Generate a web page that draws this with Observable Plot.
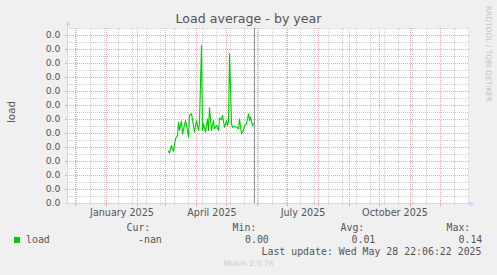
<!DOCTYPE html>
<html><head><meta charset="utf-8">
<script src="https://cdn.jsdelivr.net/npm/d3@7"></script>
<script src="https://cdn.jsdelivr.net/npm/@observablehq/plot@0.6"></script>
<style>
html,body{margin:0;padding:0;background:#f0f0f0;}
#wrap{position:relative;width:497px;height:275px;overflow:hidden;font-family:"DejaVu Sans";color:#555;}
#wrap svg{position:absolute;left:0;top:0;}
.t{position:absolute;white-space:pre;line-height:1;}
.m{font-family:"DejaVu Sans Mono";font-size:9.9px;color:#555;}
</style></head><body><div id="wrap"></div>
<script>
// ---- data ----
const dates = ["2025-03-04","2025-03-05","2025-03-07","2025-03-08","2025-03-09","2025-03-11","2025-03-13","2025-03-14","2025-03-15","2025-03-17","2025-03-18","2025-03-21","2025-03-23","2025-03-24","2025-03-25","2025-03-27","2025-03-29","2025-03-30","2025-04-01","2025-04-03","2025-04-04","2025-04-06","2025-04-07","2025-04-08","2025-04-10","2025-04-12","2025-04-13","2025-04-14","2025-04-16","2025-04-18","2025-04-19","2025-04-21","2025-04-23","2025-04-24","2025-04-26","2025-04-27","2025-04-29","2025-05-01","2025-05-02","2025-05-03","2025-05-04","2025-05-06","2025-05-07","2025-05-09","2025-05-11","2025-05-13","2025-05-14","2025-05-16","2025-05-18","2025-05-19","2025-05-21","2025-05-23","2025-05-24","2025-05-25","2025-05-27","2025-05-28"];
const loads = [0.0467,0.0449,0.0518,0.0488,0.0467,0.0578,0.0607,0.0726,0.0652,0.0735,0.0622,0.0741,0.0652,0.0592,0.0786,0.0801,0.0696,0.0637,0.0741,0.0652,0.0726,0.1411,0.0652,0.0712,0.0637,0.0756,0.0652,0.0854,0.0652,0.0741,0.0667,0.0696,0.0652,0.0765,0.0747,0.0786,0.0681,0.0741,0.0696,0.0726,0.1337,0.0712,0.0681,0.0688,0.0681,0.0667,0.0756,0.0622,0.0652,0.0696,0.0712,0.0801,0.0741,0.0771,0.0696,0.0712];
const xDomain = ["2024-11-23","2025-12-29"];
const nowTime = "2025-05-28T22:06:22Z";
const monthStarts = ["2024-12-01","2025-01-01","2025-02-01","2025-03-01","2025-04-01","2025-05-01","2025-06-01","2025-07-01","2025-08-01","2025-09-01","2025-10-01","2025-11-01","2025-12-01"];
const minorDates = ["2024-12-02","2024-12-16","2024-12-30","2025-01-13","2025-01-27","2025-02-10","2025-02-24","2025-03-10","2025-03-24","2025-04-07","2025-04-21","2025-05-05","2025-05-19","2025-06-02","2025-06-16","2025-06-30","2025-07-14","2025-07-28","2025-08-11","2025-08-25","2025-09-08","2025-09-22","2025-10-06","2025-10-20","2025-11-03","2025-11-17","2025-12-01","2025-12-15","2025-12-29"];
const monthLabels = ["January 2025","April 2025","July 2025","October 2025"];
const monthLabelDates = ["2025-01-16T12:00Z","2025-04-16T12:00Z","2025-07-16T12:00Z","2025-10-16T12:00Z"];
const yTicks = [0,0.0125,0.025,0.0375,0.05,0.0625,0.075,0.0875,0.1,0.1125,0.125,0.1375,0.15];
const yTickLabels = ["0.0","0.0","0.0","0.0","0.0","0.0","0.0","0.0","0.0","0.0","0.0","0.0","0.0"];
const yMinor = [0.00625,0.01875,0.03125,0.04375,0.05625,0.06875,0.08125,0.09375,0.10625,0.11875,0.13125,0.14375,0.15625];
const yMax = 0.15625;
const legendName = "load";
const legendCur = "-nan", legendMin = "0.00", legendAvg = "0.01", legendMax = "0.14";
const lastUpdate = "Last update: Wed May 28 22:06:22 2025";

// ---- styles ----
const GRID = "#cfcfcf", MGRID = "#eaa6a6", AXIS = "#cfd6f8", LINE = "#00cc00";
const toDate = s => new Date(s);
const series = dates.map((d, i) => ({date: toDate(d), load: loads[i]}));
const labelRows = monthLabelDates.map((d, i) => ({date: toDate(d), label: monthLabels[i]}));
const yRows = yTicks.map((v, i) => ({v, label: yTickLabels[i]}));

const chart = Plot.plot({
  width: 497, height: 275,
  marginTop: 28, marginBottom: 72, marginLeft: 67, marginRight: 29,
  style: {background: "transparent", fontFamily: "DejaVu Sans", color: "#555", overflow: "visible"},
  x: {type: "utc", domain: xDomain.map(toDate), axis: null},
  y: {domain: [0, yMax], axis: null},
  marks: [
    Plot.frame({fill: "#ffffff", stroke: null}),
    Plot.ruleY(yMinor, {stroke: GRID, strokeDasharray: "1,1"}),
    Plot.ruleX(minorDates.map(toDate), {stroke: GRID, strokeDasharray: "1,1"}),
    Plot.ruleY(yTicks.slice(1), {stroke: MGRID, strokeDasharray: "1,1"}),
    Plot.ruleX(monthStarts.map(toDate), {stroke: MGRID, strokeDasharray: "1,1"}),
    Plot.axisX({ticks: minorDates.map(toDate), tickSize: 2, stroke: GRID, tickFormat: () => "", label: null}),
    Plot.axisX({ticks: monthStarts.map(toDate), tickSize: 3, stroke: MGRID, tickFormat: () => "", label: null}),
    Plot.axisY({ticks: yTicks, tickSize: 2, stroke: MGRID, tickFormat: () => "", label: null}),
    Plot.ruleX([toDate(nowTime)], {stroke: "#8a8a8a"}),
    Plot.line(series, {x: "date", y: "load", stroke: LINE, strokeWidth: 1.1}),
    Plot.ruleY([0], {stroke: AXIS, insetLeft: -2, insetRight: -2}),
    Plot.ruleX([toDate(xDomain[0])], {stroke: AXIS, insetTop: -3, insetBottom: -2}),
    Plot.dot([0], {frameAnchor: "top-left", dy: -5, dx: 0.5, symbol: "triangle", r: 2, fill: AXIS, stroke: null}),
    Plot.dot([0], {frameAnchor: "bottom-right", dx: 3, dy: 0.5, rotate: 90, symbol: "triangle", r: 2, fill: AXIS, stroke: null}),
    Plot.text(labelRows, {x: "date", text: "label", frameAnchor: "bottom", dy: 9, lineAnchor: "middle", fontSize: 9.6, fill: "#555"}),
    Plot.text(yRows, {y: "v", text: "label", frameAnchor: "left", dx: -7, textAnchor: "end", lineAnchor: "middle", fontSize: 9.3, fill: "#555"})
  ]
});

const wrap = document.getElementById("wrap");
wrap.appendChild(chart);
function addText(txt, cls, css) {
  const d = document.createElement("div");
  d.className = "t " + cls;
  d.textContent = txt;
  Object.assign(d.style, css);
  wrap.appendChild(d);
  return d;
}
addText("Load average - by year", "", {left: "0px", width: "497px", textAlign: "center", top: "13.3px", fontSize: "12.6px", color: "#555"});
addText("load", "", {left: "10.5px", top: "112px", fontSize: "10.3px", transform: "translate(-50%,-50%) rotate(-90deg)", color: "#555"});
addText("RRDTOOL / TOBI OETIKER", "", {left: "488px", top: "53.5px", fontSize: "7.5px", transform: "translate(-50%,-50%) rotate(90deg)", color: "#c4c4c4"});
addText("Munin 2.0.76", "", {left: "0px", width: "497px", textAlign: "center", top: "259.6px", fontSize: "7.6px", color: "#cccccc"});
const sq = document.createElement("div");
Object.assign(sq.style, {position: "absolute", left: "14px", top: "237px", width: "6px", height: "6px", background: LINE});
wrap.appendChild(sq);
addText(legendName, "m", {left: "26px", top: "234.6px"});
addText("Cur:", "m", {left: "126.5px", top: "222.6px"});
addText(legendCur, "m", {left: "138px", top: "234.6px"});
addText("Min:", "m", {left: "232.5px", top: "222.6px"});
addText(legendMin, "m", {left: "245px", top: "234.6px"});
addText("Avg:", "m", {left: "340.5px", top: "222.6px"});
addText(legendAvg, "m", {left: "351.5px", top: "234.6px"});
addText("Max:", "m", {left: "446.5px", top: "222.6px"});
addText(legendMax, "m", {left: "458.5px", top: "234.6px"});
addText(lastUpdate, "m", {left: "261.5px", top: "246.6px"});
</script></body></html>
